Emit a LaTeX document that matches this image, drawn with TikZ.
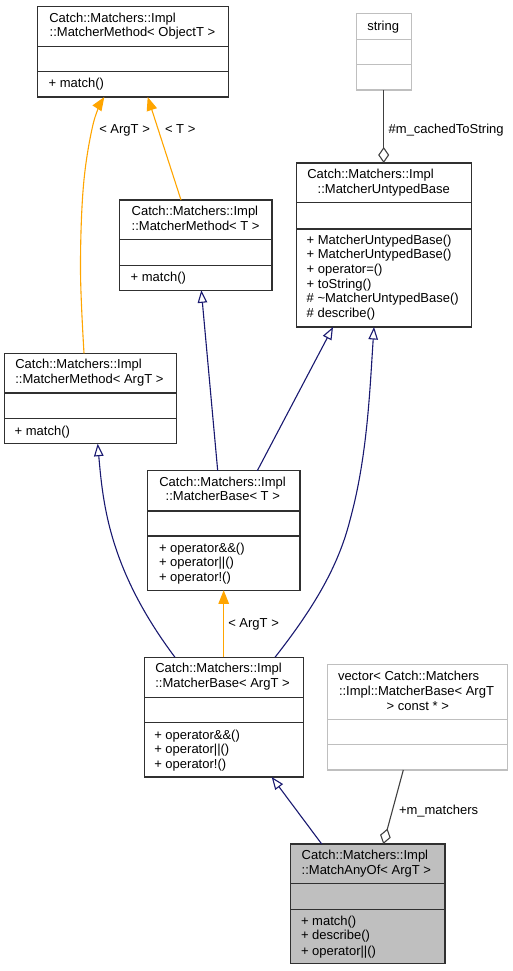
\documentclass[tikz,border=0pt]{standalone}
\usepackage{fontspec}
\setmainfont{Liberation Sans}
\usetikzlibrary{arrows.meta}
\definecolor{mblue}{HTML}{191970}
\definecolor{dorange}{HTML}{FFA500}
\definecolor{grey25}{HTML}{404040}
\definecolor{grey75}{HTML}{BFBFBF}
\definecolor{bord}{HTML}{303030}
\tikzset{
  cls/.style={draw=bord, line width=1.15pt, inner sep=0pt, outer sep=0pt},
  ghost/.style={draw=grey75, line width=1.15pt, inner sep=0pt, outer sep=0pt},
  sep/.style={draw=bord, line width=1.15pt},
  txt/.style={anchor=base west, inner sep=0pt, outer sep=0pt, font=\fontsize{13}{15}\selectfont, text=black},
  inh/.style={draw=mblue, line width=1.1pt, -{Triangle[open,length=12.5pt,width=9.5pt]}},
  tmpl/.style={draw=dorange, line width=1.1pt, -{Triangle[length=13.5pt,width=10.5pt]}},
  agg/.style={draw=grey25, line width=1.1pt, -{Diamond[open,length=16pt,width=11pt]}}
}
\newcommand{\tl}[4]{\node[txt] (#1) at (#2,{#3+4.5}) {#4};}
\newcommand{\clsbox}[8]{%
  \node[#8, minimum width={(#4-#2)*1pt}, minimum height={(#5-#3)*1pt}, anchor=north west] (#1) at (#2,#3) {};
  \draw[sep, #8] (#2,#6) -- (#4,#6);
  \draw[sep, #8] (#2,#7) -- (#4,#7);}
\begin{document}
\begin{tikzpicture}[x=1pt,y=-1pt]
\useasboundingbox (0,0) rectangle (513,971);
% boxes
\clsbox{A}{37.7}{6.3}{228.7}{97}{46.7}{71.7}{cls}
\clsbox{S}{356.7}{13.7}{411.3}{90}{39.3}{64.7}{ghost}
\clsbox{MUB}{296.3}{163}{471.3}{327}{202.7}{229}{cls}
\clsbox{MMT}{119.7}{200}{272}{290.3}{239.3}{265.3}{cls}
\clsbox{MMA}{4.3}{353.3}{176.7}{443.7}{393}{418.7}{cls}
\clsbox{MBT}{147.7}{470.7}{300}{590.3}{511}{536}{cls}
\clsbox{MBA}{144.7}{657.3}{303.3}{777}{697.3}{722.7}{cls}
\clsbox{V}{327.3}{664.7}{507.3}{770}{719.3}{744.7}{ghost}
\node[cls, fill=grey75, minimum width=154.3pt, minimum height=119.3pt, anchor=north west] (MAO) at (290.7,844) {};
\draw[sep] (290.7,883.7) -- (445,883.7);
\draw[sep] (290.7,909.3) -- (445,909.3);
% texts
\tl{a1}{49.3}{18.3}{Catch::Matchers::Impl}
\tl{a2}{49.7}{32.3}{::MatcherMethod< ObjectT >}
\tl{a3}{48.7}{83.3}{+ match()}
\tl{s1}{367.3}{25.7}{string}
\tl{u1}{307.3}{174.3}{Catch::Matchers::Impl}
\tl{u2}{317.7}{189.3}{::MatcherUntypedBase}
\tl{u3}{306.7}{240}{+ MatcherUntypedBase()}
\tl{u4}{306.7}{254.3}{+ MatcherUntypedBase()}
\tl{u5}{306.7}{269.3}{+ operator=()}
\tl{u6}{306.7}{284.3}{+ toString()}
\tl{u7}{306.7}{298.3}{\# \textasciitilde MatcherUntypedBase()}
\tl{u8}{306.7}{313.3}{\# describe()}
\tl{t1}{131.7}{211.3}{Catch::Matchers::Impl}
\tl{t2}{131.7}{226.3}{::MatcherMethod< T >}
\tl{t3}{130.7}{276.7}{+ match()}
\tl{m1}{15.3}{364.3}{Catch::Matchers::Impl}
\tl{m2}{15.3}{379.3}{::MatcherMethod< ArgT >}
\tl{m3}{14.7}{430.7}{+ match()}
\tl{b1}{159.3}{482.3}{Catch::Matchers::Impl}
\tl{b2}{165.7}{496.3}{::MatcherBase< T >}
\tl{b3}{159}{547.7}{+ operator\&\&()}
\tl{b4}{159}{562.3}{+ operator||()}
\tl{b5}{159}{576.7}{+ operator!()}
\tl{c1}{155.3}{668.3}{Catch::Matchers::Impl}
\tl{c2}{155.3}{683.3}{::MatcherBase< ArgT >}
\tl{c3}{154.3}{735}{+ operator\&\&()}
\tl{c4}{154.3}{749}{+ operator||()}
\tl{c5}{154.3}{763.7}{+ operator!()}
\tl{v1}{338}{676}{vector< Catch::Matchers}
\tl{v2}{339}{690.7}{::Impl::MatcherBase< ArgT}
\tl{v3}{386.7}{705.7}{> const * >}
\tl{o1}{301.7}{855.3}{Catch::Matchers::Impl}
\tl{o2}{301.7}{870}{::MatchAnyOf< ArgT >}
\tl{o3}{301}{920.7}{+ match()}
\tl{o4}{301}{935}{+ describe()}
\tl{o5}{301}{950.7}{+ operator||()}
% edge labels
\tl{l1}{388.7}{129.3}{\#m\_cachedToString}
\tl{l2}{99.3}{129.3}{< ArgT >}
\tl{l3}{165}{129.3}{< T >}
\tl{l4}{228.3}{622.7}{< ArgT >}
\tl{l5}{399}{810}{+m\_matchers}
% attachment points
\coordinate (A-s1) at (104.3,97);
\coordinate (A-s2) at (147.7,97);
\coordinate (MMA-n) at (84,353.3);
\coordinate (MMA-s) at (97.7,443.7);
\coordinate (MMT-n) at (181,200);
\coordinate (MMT-s) at (201.3,290.3);
\coordinate (S-s) at (383.7,90);
\coordinate (MUB-n) at (383.7,163);
\coordinate (MUB-s1) at (333,327);
\coordinate (MUB-s2) at (374,327);
\coordinate (MBT-n1) at (217.7,470.7);
\coordinate (MBT-n2) at (257.3,470.7);
\coordinate (MBT-s) at (223.7,590.3);
\coordinate (MBA-n1) at (175,657.3);
\coordinate (MBA-n2) at (223.7,657.3);
\coordinate (MBA-n3) at (275,657.3);
\coordinate (MBA-s) at (271.7,777);
\coordinate (V-s) at (403.3,770);
\coordinate (MAO-n1) at (321.7,844);
\coordinate (MAO-n2) at (383.3,844);
\coordinate (bendR) at (350,520);
% connectors
\draw[tmpl] plot[smooth, tension=0.6] coordinates {(MMA-n) (80.5,270) (83.5,185) (93.3,123.3) (A-s1)};
\draw[tmpl] (MMT-n) -- (A-s2);
\draw[inh] (MBT-n1) -- (MMT-s);
\draw[inh] (MBT-n2) -- (MUB-s1);
\draw[inh] (MBA-n3) .. controls (312,610) and (338,568) .. (bendR)
  .. controls (367.2,457.3) and (369.7,392) .. (MUB-s2);
\draw[inh] (MBA-n1) .. controls (109,569.3) and (103,504) .. (MMA-s);
\draw[tmpl] (MBA-n2) -- (MBT-s);
\draw[inh] (MAO-n1) -- (MBA-s);
\draw[agg] (V-s) -- (MAO-n2);
\draw[agg] (S-s) -- (MUB-n);
\end{tikzpicture}
\end{document}
